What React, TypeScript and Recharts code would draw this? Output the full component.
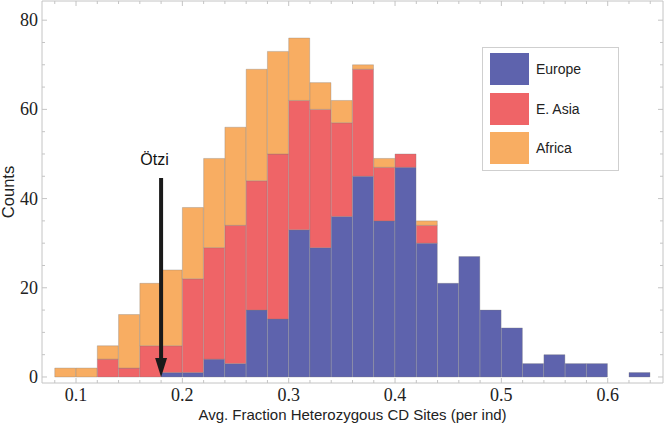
import { ComposedChart, Bar, XAxis, YAxis, ReferenceLine, Legend } from "recharts";

// Histogram bins (left edge of each 0.02-wide bin)
const bins = [
  0.08, 0.1, 0.12, 0.14, 0.16, 0.18, 0.2, 0.22, 0.24, 0.26, 0.28, 0.3, 0.32, 0.34,
  0.36, 0.38, 0.4, 0.42, 0.44, 0.46, 0.48, 0.5, 0.52, 0.54, 0.56, 0.58, 0.6, 0.62,
];
const europe = [0, 0, 0, 0, 0, 1, 1, 4, 3, 15, 13, 33, 29, 36, 45, 35, 47, 30, 21, 27, 15, 11, 3, 5, 3, 3, 0, 1];
const eastAsia = [0, 0, 4, 2, 7, 6, 21, 25, 31, 29, 37, 29, 31, 21, 24, 12, 3, 4, 0, 0, 0, 0, 0, 0, 0, 0, 0, 0];
const africa = [2, 2, 3, 12, 14, 17, 16, 20, 22, 25, 23, 14, 6, 5, 1, 2, 0, 1, 0, 0, 0, 0, 0, 0, 0, 0, 0, 0];

const binWidth = 0.02;
const xTicks = [
  0.08, 0.1, 0.12, 0.14, 0.16, 0.18, 0.2, 0.22, 0.24, 0.26, 0.28, 0.3, 0.32, 0.34, 0.36,
  0.38, 0.4, 0.42, 0.44, 0.46, 0.48, 0.5, 0.52, 0.54, 0.56, 0.58, 0.6, 0.62, 0.64,
];
const xLabels = [0.1, 0.2, 0.3, 0.4, 0.5, 0.6];
const yTicks = [0, 5, 10, 15, 20, 25, 30, 35, 40, 45, 50, 55, 60, 65, 70, 75, 80];
const yLabels = [0, 20, 40, 60, 80];

const otziX = 0.18;
const otziTop = 44.6;
const otziLabel = "Ötzi";

const series = [
  { key: "europe", name: "Europe", color: "#5e63ad" },
  { key: "eastAsia", name: "E. Asia", color: "#ef6467" },
  { key: "africa", name: "Africa", color: "#f8ad62" },
];

const data = bins.map((b, i) => ({
  bin: b.toFixed(2),
  start: b,
  europe: europe[i],
  eastAsia: eastAsia[i],
  africa: africa[i],
}));

const W = 664;
const H = 427;
const LEFT_AXIS_W = 42;
const BOTTOM_AXIS_H = 44;
const X_DOMAIN: [number, number] = [0.068, 0.652];
const Y_DOMAIN: [number, number] = [-1.35, 84.3];
const FRAME = "#c4c4c4";
const SERIF = "'Liberation Serif', 'Times New Roman', serif";
const SANS = "'Liberation Sans', Arial, sans-serif";

// category axis padding so the bands line up with the numeric axis
const plotW = W - LEFT_AXIS_W - 1;
const span = X_DOMAIN[1] - X_DOMAIN[0];
const padLeft = ((bins[0] - X_DOMAIN[0]) / span) * plotW;
const padRight = ((X_DOMAIN[1] - (bins[bins.length - 1] + binWidth)) / span) * plotW;

const near = (list: number[], v: number) => list.some((l) => Math.abs(l - v) < 1e-6);

function BottomTick(props: any) {
  const { x, y, payload } = props;
  const major = near(xLabels, payload.value);
  return (
    <g>
      <line x1={x} x2={x} y1={y} y2={y - (major ? 5 : 3)} stroke={FRAME} />
      {major && (
        <text x={x} y={y + 18} textAnchor="middle" fontFamily={SERIF} fontSize={18} fill="#222">
          {payload.value}
        </text>
      )}
    </g>
  );
}

function TopTick(props: any) {
  const { x, y, payload } = props;
  const major = near(xLabels, payload.value);
  return <line x1={x} x2={x} y1={y} y2={y + (major ? 5 : 3)} stroke={FRAME} />;
}

function LeftTick(props: any) {
  const { x, y, payload } = props;
  const major = near(yLabels, payload.value);
  return (
    <g>
      <line x1={x} x2={x + (major ? 5 : 3)} y1={y} y2={y} stroke={FRAME} />
      {major && (
        <text x={x - 4} y={y + 6} textAnchor="end" fontFamily={SERIF} fontSize={18} fill="#222">
          {payload.value}
        </text>
      )}
    </g>
  );
}

function RightTick(props: any) {
  const { x, y, payload } = props;
  const major = near(yLabels, payload.value);
  return <line x1={x} x2={x - (major ? 5 : 3)} y1={y} y2={y} stroke={FRAME} />;
}

function OtziArrow(props: any) {
  const { x1, y1, x2, y2 } = props;
  const x = (x1 + x2) / 2;
  const top = Math.min(y1, y2);
  const tip = Math.max(y1, y2);
  const headH = 19;
  const headW = 12;
  return (
    <g>
      <line x1={x} x2={x} y1={top} y2={tip - headH + 2} stroke="#1a1a1a" strokeWidth={4} />
      <polygon
        points={`${x - headW / 2},${tip - headH} ${x + headW / 2},${tip - headH} ${x},${tip}`}
        fill="#1a1a1a"
      />
      <text x={x - 6.5} y={top - 13} textAnchor="middle" fontFamily={SANS} fontSize={16} fill="#111">
        {otziLabel}
      </text>
    </g>
  );
}

function LegendBox() {
  return (
    <div
      style={{
        border: "1px solid #cfcfcf",
        background: "#fff",
        padding: "5px 8px 6px 7px",
        width: 137,
        boxSizing: "border-box",
      }}
    >
      {series.map((s, i) => (
        <div
          key={s.key}
          style={{ display: "flex", alignItems: "center", height: 32, marginTop: i === 0 ? 0 : 7.5 }}
        >
          <span style={{ width: 39, height: 32, background: s.color, display: "inline-block" }} />
          <span style={{ marginLeft: 7, fontFamily: SANS, fontSize: 14, color: "#222" }}>{s.name}</span>
        </div>
      ))}
    </div>
  );
}

export default function App() {
  return (
    <div style={{ position: "absolute", left: 0, top: 0, background: "#fff" }}>
      <ComposedChart
        width={W}
        height={H}
        data={data}
        margin={{ top: 0, right: 0, bottom: 0, left: 0 }}
        barCategoryGap={0}
        barGap={0}
      >
        <XAxis
          xAxisId="bins"
          dataKey="bin"
          type="category"
          hide
          height={0}
          padding={{ left: padLeft, right: padRight }}
        />
        <XAxis
          xAxisId="num"
          dataKey="start"
          type="number"
          domain={X_DOMAIN}
          allowDataOverflow
          ticks={xTicks}
          interval={0}
          tickSize={0}
          tickMargin={0}
          tickLine={false}
          tick={<BottomTick />}
          height={BOTTOM_AXIS_H}
          axisLine={{ stroke: FRAME }}
          label={{
            value: "Avg. Fraction Heterozygous CD Sites (per ind)",
            position: "insideBottom",
            offset: 7,
            fill: "#222",
            fontSize: 15,
            fontFamily: SANS,
          }}
        />
        <XAxis
          xAxisId="top"
          orientation="top"
          dataKey="start"
          type="number"
          domain={X_DOMAIN}
          allowDataOverflow
          ticks={xTicks}
          interval={0}
          tickSize={0}
          tickMargin={0}
          tickLine={false}
          tick={<TopTick />}
          height={1}
          axisLine={{ stroke: FRAME }}
        />
        <YAxis
          yAxisId="left"
          type="number"
          domain={Y_DOMAIN}
          allowDataOverflow
          ticks={yTicks}
          interval={0}
          tickSize={0}
          tickMargin={0}
          tickLine={false}
          tick={<LeftTick />}
          width={LEFT_AXIS_W}
          axisLine={{ stroke: FRAME }}
          label={{
            value: "Counts",
            angle: -90,
            position: "insideLeft",
            offset: 8,
            fill: "#222",
            fontSize: 16.5,
            fontFamily: SANS,
            style: { textAnchor: "middle" },
          }}
        />
        <YAxis
          yAxisId="right"
          orientation="right"
          type="number"
          domain={Y_DOMAIN}
          allowDataOverflow
          ticks={yTicks}
          interval={0}
          tickSize={0}
          tickMargin={0}
          tickLine={false}
          tick={<RightTick />}
          width={1}
          axisLine={{ stroke: FRAME }}
        />
        <Legend
          layout="vertical"
          align="center"
          verticalAlign="middle"
          content={<LegendBox />}
          wrapperStyle={{ position: "absolute", left: 482, top: 47, width: "auto", height: "auto" }}
        />
        {series.map((s) => (
          <Bar
            key={s.key}
            xAxisId="bins"
            yAxisId="left"
            dataKey={s.key}
            name={s.name}
            stackId="hist"
            fill={s.color}
            stroke="#7a7a7a"
            strokeOpacity={0.45}
            strokeWidth={0.7}
            isAnimationActive={false}
          />
        ))}
        <ReferenceLine
          xAxisId="num"
          yAxisId="left"
          segment={[
            { x: otziX, y: otziTop },
            { x: otziX, y: 0 },
          ]}
          shape={<OtziArrow />}
        />
      </ComposedChart>
    </div>
  );
}
